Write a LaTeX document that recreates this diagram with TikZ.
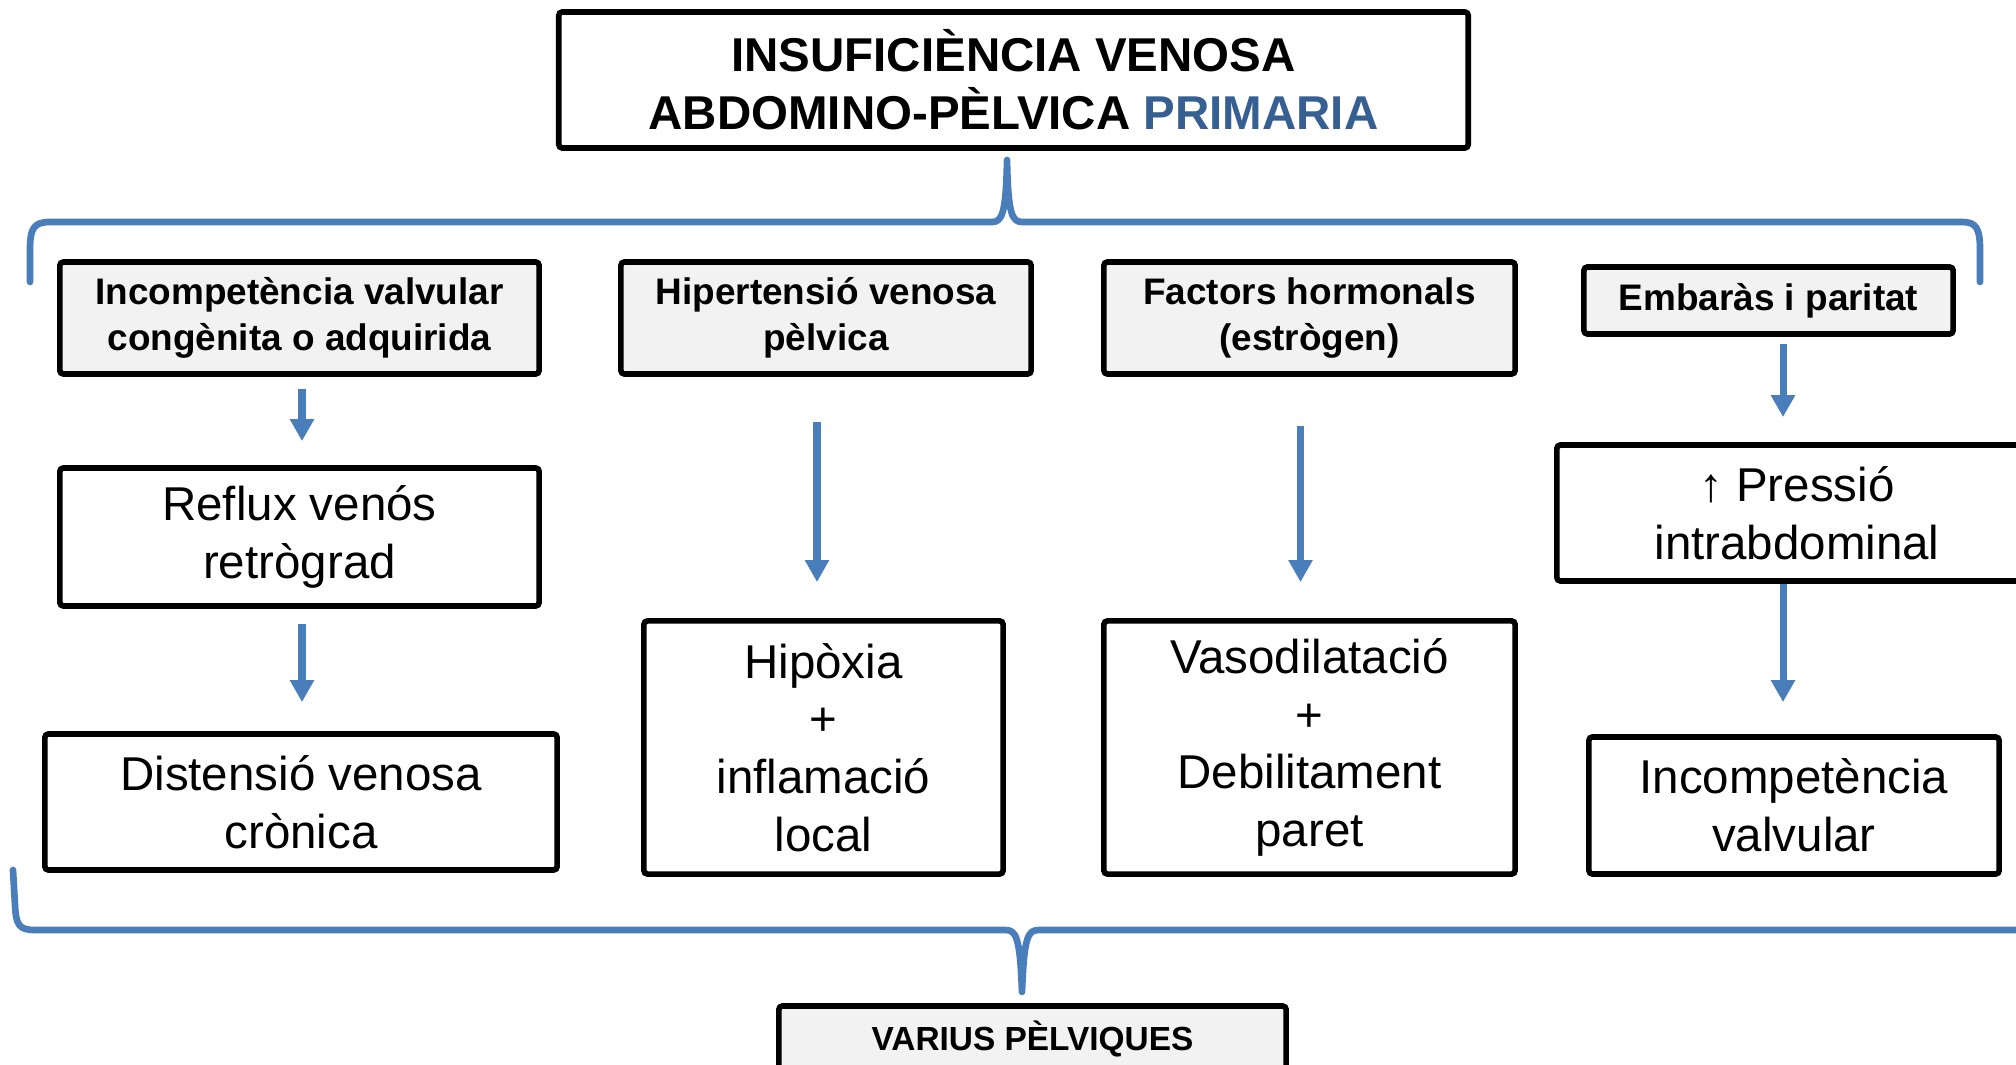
\documentclass[tikz,border=0pt]{standalone}
\usepackage{fontspec}
\setmainfont{Liberation Sans}
\usepackage{tikz}
\usetikzlibrary{arrows.meta}
\usetikzlibrary{calc}

\definecolor{bracecol}{RGB}{74,126,187}
\definecolor{titleblue}{RGB}{55,96,146}
\definecolor{boxgrey}{RGB}{242,242,242}

\tikzset{
  hdr/.style={draw, line width=1.6pt, fill=boxgrey, rounded corners=1pt, inner sep=0pt,
    align=center, font=\bfseries\fontsize{10.5}{13}\selectfont},
  plainbox/.style={draw, line width=1.6pt, rounded corners=1pt, inner sep=0pt,
    align=center, font=\fontsize{13.5}{16.4}\selectfont},
  flow/.style={draw=bracecol, line width=2pt, -{Triangle[length=0.22cm, width=0.23cm]}},
  brace/.style={draw=bracecol, line width=1.9pt, line cap=round, line join=round},
}

\begin{document}
\begin{tikzpicture}[x=0.01cm, y=-0.01cm]
                \useasboundingbox (0,0) rectangle (2016,1065);
                \clip (0,0) rectangle (2016,1065);
                % title
                \node[plainbox, minimum width=9.09cm, minimum height=1.36cm, font=\bfseries\fontsize{13.5}{16.5}\selectfont]
                    (title) at (1013.5,80) {INSUFICIÈNCIA VENOSA\\ABDOMINO-PÈLVICA \textcolor{titleblue}{PRIMARIA}};
                % headers
                \node[hdr, minimum width=4.79cm, minimum height=1.12cm] (incA) at (299.5,318) {Incompetència valvular\\congènita o adquirida};
                \node[hdr, minimum width=4.10cm, minimum height=1.12cm] (hipt) at (826,318) {Hipertensió venosa\\pèlvica};
                \node[hdr, minimum width=4.11cm, minimum height=1.12cm] (horm) at (1309.5,318) {Factors hormonals\\(estrògen)};
                \node[hdr, minimum width=3.69cm, minimum height=0.67cm] (emba) at (1768.5,300.5) {Embaràs i paritat};
                % consequences
                \node[plainbox, minimum width=4.79cm, minimum height=1.38cm] (reflux) at (299.5,537) {Reflux venós\\retrògrad};
                \node[plainbox, minimum width=5.12cm, minimum height=1.36cm] (dist) at (301,802) {Distensió venosa\\crònica};
                \node[plainbox, minimum width=3.59cm, minimum height=2.53cm] (hipox) at (823.5,747.5) {Hipòxia\\+\\inflamació\\local};
                \node[plainbox, minimum width=4.11cm, minimum height=2.53cm] (vaso) at (1309.5,747.5) {Vasodilatació\\+\\Debilitament\\paret};
                \node[plainbox, minimum width=4.80cm, minimum height=1.36cm] (pres) at (1797,513) {↑ Pressió\\intrabdominal};
                \node[plainbox, minimum width=4.10cm, minimum height=1.37cm] (incv) at (1794,805.5) {Incompetència\\valvular};
                % result
                \node[hdr, minimum width=5.07cm, minimum height=0.66cm, font=\bfseries\fontsize{9.5}{11}\selectfont]
                    (vari) at (1032.5,1039) {VARIUS PÈLVIQUES};
                % arrows
                \draw[flow, shorten <=0.12cm, shorten >=0.24cm] ([xshift=0.025cm]incA.south) -- ([xshift=0.025cm]incA.south |- reflux.north);
                \draw[flow, shorten <=0.15cm, shorten >=0.29cm] ([xshift=0.025cm]reflux.south) -- ([xshift=0.025cm]reflux.south |- dist.north);
                \draw[flow, shorten <=0.45cm, shorten >=0.36cm] ([xshift=-0.09cm]hipt.south) -- ([xshift=-0.09cm]hipt.south |- hipox.north);
                \draw[flow, shorten <=0.49cm, shorten >=0.36cm] ([xshift=-0.09cm]horm.south) -- ([xshift=-0.09cm]horm.south |- vaso.north);
                \draw[flow, shorten <=0.07cm, shorten >=0.25cm] ([xshift=0.145cm]emba.south) -- ([xshift=0.145cm]emba.south |- pres.north);
                \draw[flow, shorten >=0.32cm] ([xshift=-0.14cm]pres.south) -- ([xshift=-0.14cm]pres.south |- incv.north);
                % braces
                \draw[brace] (30,282) -- (30,250) .. controls (30,228) and (34,222) .. (50,222) -- (992,222)
                    .. controls (1002,222) and (1006,214) .. (1007,160) .. controls (1008,214) and (1012,222) .. (1022,222)
                    -- (1962,222) .. controls (1976,222) and (1980,228) .. (1980,250) -- (1980,282);
                \draw[brace] (13,870) -- (15,905) .. controls (16,925) and (19,930) .. (35,930) -- (1005,930)
                    .. controls (1016,930) and (1020,936) .. (1022,992) .. controls (1024,936) and (1028,930) .. (1039,930)
                    -- (2030,930);
\end{tikzpicture}
\end{document}
